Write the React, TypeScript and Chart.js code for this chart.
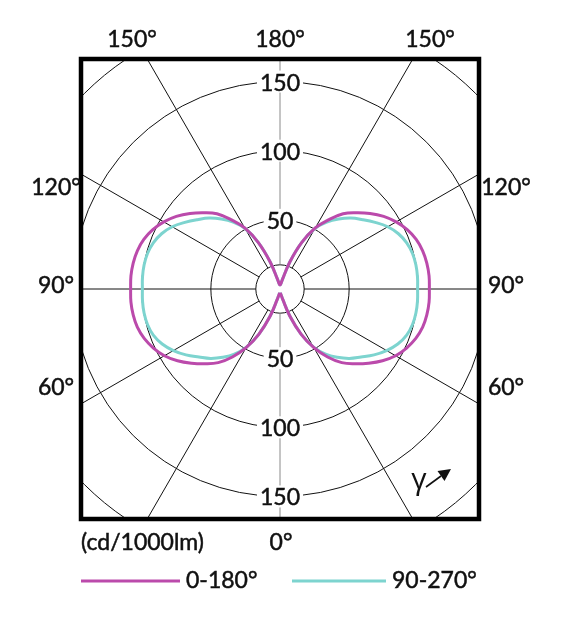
import { useEffect, useRef } from 'react';
import { Chart, registerables } from 'chart.js';

Chart.register(...registerables);

// ---- Data (luminous intensity, cd/1000lm) ----
const gammaDeg = [
  0, 5, 10, 15, 20, 25, 30, 35, 40, 45, 50, 55, 60, 65, 70, 75, 80, 85, 90,
  95, 100, 105, 110, 115, 120, 125, 130, 135, 140, 145, 150, 155, 160, 165, 170, 175, 180,
];
// C0 plane (right half of 0-180°)
const c0 = [
  3, 3.2, 4, 8, 21, 36, 49, 60, 69.5, 76.5, 83.5, 90.5, 96.5, 101, 104.5, 106.8, 107.8, 108.2, 108,
  108.2, 107.8, 106.8, 104.8, 101.5, 97, 91.5, 85, 78, 71, 61, 51, 37, 21, 8, 4, 3.2, 3,
];
// C180 plane (left half of 0-180°)
const c180 = [
  3, 3.2, 4, 8, 21, 36, 49, 60, 69.5, 76.5, 83.5, 90.5, 96.5, 101, 104.5, 106.8, 107.8, 108.2, 108,
  108.2, 107.8, 106.8, 104.8, 101.5, 97, 91.5, 85, 78, 71, 61, 51, 37, 21, 8, 4, 3.2, 3,
];
// C90 plane (right half of 90-270°)
const c90 = [
  3, 3.2, 4, 8, 21, 36, 48.5, 57.5, 64.5, 71, 76.5, 83, 89, 94, 97.5, 99.2, 99.8, 99.8, 99.5,
  99.8, 99.8, 99.2, 97.5, 94.5, 90, 84, 78, 72.5, 66, 59, 50.5, 37, 21, 8, 4, 3.2, 3,
];
// C270 plane (left half of 90-270°)
const c270 = [
  3, 3.2, 4, 8, 21, 36, 48.5, 57.5, 64.5, 71, 76.5, 83, 89, 94, 97.5, 99.2, 99.8, 99.8, 99.5,
  99.8, 99.8, 99.2, 97.5, 94.5, 90, 84, 78, 72.5, 66, 59, 50.5, 37, 21, 8, 4, 3.2, 3,
];

const seriesLabels = ['0-180°', '90-270°'];
const seriesColors = ['#bb4aab', '#7dd4cf'];

// ---- Grid / labels ----
const ringValues = [50, 100, 150, 200];
const innerRing = 17.5;
const ringLabelValues = [50, 100, 150];
const spokeAngles = [0, 30, 60, 90, 120, 150, 180, 210, 240, 270, 300, 330];
const topAngleLabels = ['150°', '180°', '150°'];
const sideAngleLabels = ['120°', '90°', '60°'];
const bottomAngleLabel = '0°';
const unitLabel = '(cd/1000lm)';
const gammaSymbol = 'γ';

const X_HALF = 143.9;
const Y_HALF = 166.3;
const FONT = 'Lato, "Open Sans", "DejaVu Sans", sans-serif';

function toXY(right: number[], left: number[]) {
  const pts: { x: number; y: number }[] = [];
  for (let i = 0; i < gammaDeg.length; i++) {
    const g = (gammaDeg[i] * Math.PI) / 180;
    pts.push({ x: right[i] * Math.sin(g), y: -right[i] * Math.cos(g) });
  }
  for (let i = gammaDeg.length - 2; i >= 0; i--) {
    const g = (gammaDeg[i] * Math.PI) / 180;
    pts.push({ x: -left[i] * Math.sin(g), y: -left[i] * Math.cos(g) });
  }
  return pts;
}

function boldText(ctx: CanvasRenderingContext2D, t: string, x: number, y: number) {
  ctx.fillText(t, x, y);
  ctx.strokeText(t, x, y);
}

const polarPlugin = {
  id: 'polarGrid',
  beforeDatasetsDraw(chart: any) {
    const { ctx, chartArea: ca, scales } = chart;
    const sx = scales.x;
    const sy = scales.y;
    const cx = sx.getPixelForValue(0);
    const cy = sy.getPixelForValue(0);
    const unit = sx.getPixelForValue(1) - cx;
    ctx.save();
    ctx.beginPath();
    ctx.rect(ca.left, ca.top, ca.right - ca.left, ca.bottom - ca.top);
    ctx.clip();
    ctx.lineWidth = 1;
    ctx.strokeStyle = '#111';
    for (const v of [innerRing, ...ringValues]) {
      ctx.beginPath();
      ctx.arc(cx, cy, v * unit, 0, Math.PI * 2);
      ctx.stroke();
    }
    for (const a of spokeAngles) {
      const r = (a * Math.PI) / 180;
      const dx = Math.sin(r);
      const dy = Math.cos(r);
      ctx.strokeStyle = a % 180 === 0 ? '#8a8a8a' : '#111';
      ctx.beginPath();
      ctx.moveTo(cx + dx * innerRing * unit, cy + dy * innerRing * unit);
      ctx.lineTo(cx + dx * 600, cy + dy * 600);
      ctx.stroke();
    }
    ctx.font = `23px ${FONT}`;
    ctx.textAlign = 'center';
    ctx.textBaseline = 'alphabetic';
    ctx.lineWidth = 0.5;
    ctx.strokeStyle = '#111';
    for (const v of ringLabelValues) {
      const t = String(v);
      const w = ctx.measureText(t).width;
      for (const s of [-1, 1]) {
        const y = cy + s * v * unit;
        ctx.fillStyle = '#fff';
        ctx.fillRect(cx - w / 2 - 3, y - 11, w + 6, 22);
        ctx.fillStyle = '#111';
        boldText(ctx, t, cx, y + 9);
      }
    }
    ctx.restore();
  },
  afterDraw(chart: any) {
    const { ctx, chartArea: ca } = chart;
    ctx.save();
    ctx.strokeStyle = '#000';
    ctx.lineWidth = 4.5;
    ctx.strokeRect(ca.left, ca.top, ca.right - ca.left, ca.bottom - ca.top);

    ctx.fillStyle = '#111';
    ctx.strokeStyle = '#111';
    ctx.lineWidth = 0.5;
    ctx.font = `23px ${FONT}`;
    ctx.textBaseline = 'alphabetic';
    ctx.textAlign = 'center';
    const topX = [132, 280, 430];
    topAngleLabels.forEach((t, i) => boldText(ctx, t, topX[i], 47));
    const sideY = [195, 293, 395];
    sideAngleLabels.forEach((t, i) => {
      boldText(ctx, t, 56, sideY[i]);
      boldText(ctx, t, 506, sideY[i]);
    });
    boldText(ctx, bottomAngleLabel, 281, 550);
    ctx.textAlign = 'left';
    boldText(ctx, unitLabel, 81, 550);

    // legend
    const lx = [81, 292];
    const llen = [99, 94];
    chart.data.datasets.forEach((ds: any, i: number) => {
      ctx.strokeStyle = ds.borderColor;
      ctx.lineWidth = 3;
      ctx.beginPath();
      ctx.moveTo(lx[i], 581);
      ctx.lineTo(lx[i] + llen[i], 581);
      ctx.stroke();
      ctx.fillStyle = '#111';
      ctx.strokeStyle = '#111';
      ctx.lineWidth = 0.5;
      boldText(ctx, ds.label, lx[i] + llen[i] + 6, 588);
    });

    // gamma arrow
    ctx.font = `30px "Open Sans", "DejaVu Sans", sans-serif`;
    ctx.textAlign = 'center';
    ctx.fillText(gammaSymbol, 419, 489);
    ctx.strokeStyle = '#111';
    ctx.lineWidth = 1.6;
    ctx.beginPath();
    ctx.moveTo(426, 487);
    ctx.lineTo(441, 476);
    ctx.stroke();
    ctx.beginPath();
    ctx.moveTo(451, 469);
    ctx.lineTo(444.5, 481);
    ctx.lineTo(437.5, 471);
    ctx.closePath();
    ctx.fill();
    ctx.restore();
  },
};

export default function App() {
  const ref = useRef<HTMLCanvasElement>(null);
  useEffect(() => {
    document.body.style.margin = '0';
    const chart = new Chart(ref.current!, {
      type: 'scatter',
      data: {
        datasets: [
          {
            label: seriesLabels[0],
            data: toXY(c0, c180),
            borderColor: seriesColors[0],
            backgroundColor: seriesColors[0],
            borderWidth: 3,
            showLine: true,
            pointRadius: 0,
            tension: 0.4,
            order: 1,
          },
          {
            label: seriesLabels[1],
            data: toXY(c90, c270),
            borderColor: seriesColors[1],
            backgroundColor: seriesColors[1],
            borderWidth: 3,
            showLine: true,
            pointRadius: 0,
            tension: 0.4,
            order: 2,
          },
        ],
      },
      options: {
        responsive: false,
        animation: false,
        layout: { padding: { left: 81, right: 94, top: 59, bottom: 98 } },
        plugins: { legend: { display: false }, tooltip: { enabled: false } },
        scales: {
          x: { type: 'linear', min: -X_HALF, max: X_HALF, display: false },
          y: { type: 'linear', min: -Y_HALF, max: Y_HALF, display: false },
        },
      },
      plugins: [polarPlugin],
    });
    return () => chart.destroy();
  }, []);
  return (
    <div style={{ position: 'absolute', left: 0, top: 0, width: 573, height: 617, background: '#fff' }}>
      <canvas ref={ref} width={573} height={617} style={{ display: 'block', width: 573, height: 617 }} />
    </div>
  );
}
